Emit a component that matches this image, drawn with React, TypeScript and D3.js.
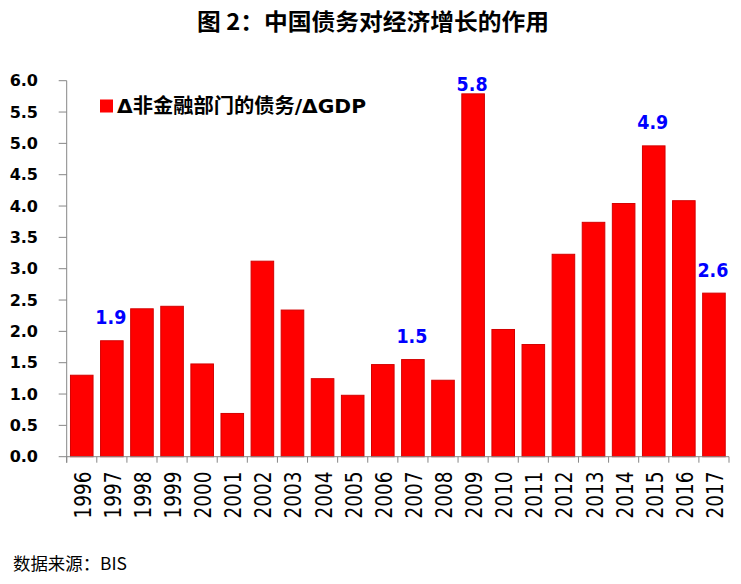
import React from "react";
import * as d3 from "d3";

const years = ["1996","1997","1998","1999","2000","2001","2002","2003","2004","2005","2006","2007","2008","2009","2010","2011","2012","2013","2014","2015","2016","2017"];
const values = [1.30,1.85,2.36,2.40,1.48,0.69,3.12,2.34,1.245,0.98,1.47,1.55,1.22,5.79,2.03,1.79,3.23,3.74,4.04,4.96,4.085,2.61];
const labelYears = ["1997","2007","2009","2015","2017"];
const labelTexts = ["1.9","1.5","5.8","4.9","2.6"];
const yTicks = [0,0.5,1,1.5,2,2.5,3,3.5,4,4.5,5,5.5,6];
const title = "图 2：中国债务对经济增长的作用";
const legendText = "Δ非金融部门的债务/ΔGDP";
const sourceText = "数据来源：BIS";

const W = 741, H = 584;
const left = 66.7, right = 729, top = 80.7, bottom = 456.7;
const axisColor = "#878787";
const latin = "'DejaVu Sans', 'Noto Sans CJK SC', sans-serif";
const cjk = "'Noto Sans CJK SC', 'DejaVu Sans', sans-serif";

export default function App() {
  const x = d3.scaleBand<string>().domain(years).range([left, right]).paddingInner(0.25).paddingOuter(0.125);
  const y = d3.scaleLinear().domain([0, 6]).range([bottom, top]);
  const step = x.step();
  const boundaries = d3.range(years.length + 1).map((i) => left + i * step);

  return (
    <svg width={W} height={H} style={{ position: "absolute", left: 0, top: 0, background: "#fff" }}>
      <text x={373} y={30} textAnchor="middle" fontFamily={cjk} fontWeight="bold" fontSize={23} textLength={352} lengthAdjust="spacingAndGlyphs" fill="#000">{title}</text>

      {/* bars */}
      {years.map((yr, i) => (
        <rect key={yr} x={x(yr)} y={y(values[i])} width={x.bandwidth()} height={bottom - y(values[i])} fill="#ff0000" stroke="#d40000" strokeWidth={1} />
      ))}

      {/* y axis */}
      <line x1={left} x2={left} y1={top} y2={bottom + 6} stroke={axisColor} strokeWidth={1} />
      {yTicks.map((t) => (
        <g key={t}>
          <line x1={left - 8} x2={left} y1={y(t)} y2={y(t)} stroke={axisColor} strokeWidth={1} />
          <text x={38} y={y(t)} dy="0.36em" textAnchor="end" fontFamily={latin} fontWeight="bold" fontSize={16} fill="#000">{t.toFixed(1)}</text>
        </g>
      ))}

      {/* x axis */}
      <line x1={left} x2={right} y1={bottom} y2={bottom} stroke={axisColor} strokeWidth={1} />
      {boundaries.map((bx, i) => (
        <line key={i} x1={bx} x2={bx} y1={bottom} y2={bottom + 6} stroke={axisColor} strokeWidth={1} />
      ))}
      {years.map((yr) => {
        const cx = (x(yr) as number) + x.bandwidth() / 2 + 9;
        const ty = 471.5;
        return (
          <text key={yr} x={cx} y={ty} transform={`rotate(-90 ${cx} ${ty})`} textAnchor="end" fontFamily={latin} fontSize={23} textLength={47} lengthAdjust="spacingAndGlyphs" fill="#000">{yr}</text>
        );
      })}

      {/* data labels */}
      {labelYears.map((yr, k) => {
        const i = years.indexOf(yr);
        const cx = (x(yr) as number) + x.bandwidth() / 2;
        const by = Math.max(y(values[i]) - 16.5, top + 10.3);
        return (
          <text key={yr} x={cx - 1} y={by} textAnchor="middle" fontFamily={latin} fontWeight="bold" fontSize={19} textLength={31} lengthAdjust="spacingAndGlyphs" fill="#0000ff">{labelTexts[k]}</text>
        );
      })}

      {/* legend */}
      <rect x={100} y={99.5} width={13} height={13} fill="#ff0000" />
      <text x={117} y={113} fontFamily={latin} fontWeight="bold" fontSize={20} textLength={249} lengthAdjust="spacingAndGlyphs" fill="#000">{legendText}</text>

      {/* source */}
      <text x={13} y={569.5} fontFamily={cjk} fontSize={17} textLength={114} lengthAdjust="spacingAndGlyphs" fill="#000">{sourceText}</text>
    </svg>
  );
}
